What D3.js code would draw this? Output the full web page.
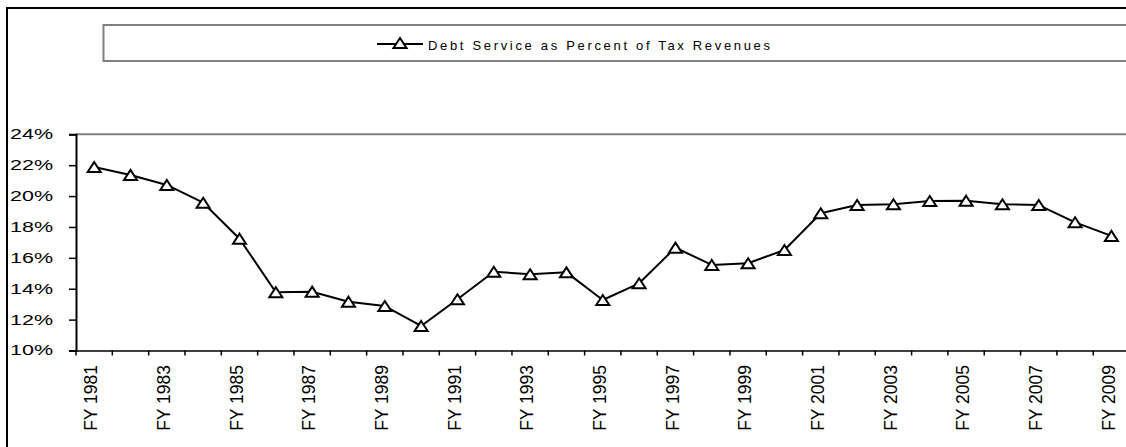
<!DOCTYPE html>
<html>
<head>
<meta charset="utf-8">
<script src="https://cdn.jsdelivr.net/npm/d3@7"></script>
<style>
  html, body { margin: 0; background: #fff; overflow: hidden; }
  svg { display: block; overflow: hidden; font-family: "Liberation Sans", Arial, sans-serif; }
</style>
</head>
<body>
<div id="graf"></div>
<script>
const years = [
  1981, 1982, 1983, 1984, 1985, 1986, 1987, 1988, 1989, 1990,
  1991, 1992, 1993, 1994, 1995, 1996, 1997, 1998, 1999, 2000,
  2001, 2002, 2003, 2004, 2005, 2006, 2007, 2008, 2009
]
const debtPct = [
  21.88, 21.37, 20.72, 19.57, 17.24, 13.77, 13.81, 13.16, 12.88, 11.59,
  13.32, 15.1, 14.94, 15.06, 13.27, 14.35, 16.66, 15.54, 15.65, 16.51,
  18.89, 19.42, 19.47, 19.68, 19.7, 19.47, 19.42, 18.3, 17.42
]
const yTicks = [10, 12, 14, 16, 18, 20, 22, 24]
const seriesName = "Debt Service as Percent of Tax Revenues"

const data = years.map((y, i) => ({ year: y, value: debtPct[i] }))

const W = 1126, H = 447
const plot = { left: 76, top: 134.3, bottom: 350.5, band: 36.33 }
const plotRight = plot.left + plot.band * years.length

const svg = d3.select("#graf")
  .append("svg")
  .attr("width", W)
  .attr("height", H)

// outer chart border: only top and left are inside the picture
svg.append("path")
  .attr("d", `M${W + 50},8H7V${H + 50}`)
  .attr("fill", "none")
  .attr("stroke", "#000")
  .attr("stroke-width", 2)

// legend box, its right end is cut off
svg.append("path")
  .attr("d", `M${W + 50},25H103.5V61H${W + 50}`)
  .attr("fill", "none")
  .attr("stroke", "#808080")
  .attr("stroke-width", 2)

const triPath = "M0,-5L6.5,5L-6.5,5Z"

const leg = svg.append("g")
leg.append("line")
  .attr("x1", 377).attr("x2", 423)
  .attr("y1", 44).attr("y2", 44)
  .attr("stroke", "#000")
  .attr("stroke-width", 2)
leg.append("path")
  .attr("d", triPath)
  .attr("transform", "translate(400,43)")
  .attr("fill", "#fff")
  .attr("stroke", "#000")
  .attr("stroke-width", 2)
leg.append("text")
  .attr("x", 428).attr("y", 50)
  .attr("font-size", 13)
  .attr("textLength", 342)
  .attr("lengthAdjust", "spacing")
  .attr("fill", "#000")
  .text(seriesName)

const x = d3.scaleBand()
  .domain(years)
  .range([plot.left, plotRight])
  .paddingInner(0).paddingOuter(0)

const y = d3.scaleLinear()
  .domain([10, 24])
  .range([plot.bottom, plot.top])

// plot area top border
svg.append("line")
  .attr("x1", plot.left).attr("x2", W + 50)
  .attr("y1", plot.top).attr("y2", plot.top)
  .attr("stroke", "#808080")
  .attr("stroke-width", 2)

// y axis
const yAxis = d3.axisLeft(y)
  .tickValues(yTicks)
  .tickSize(7)
  .tickPadding(16)
  .tickFormat((d) => d + "%")

const gy = svg.append("g")
  .attr("transform", `translate(${plot.left},0)`)
  .call(yAxis)
gy.select(".domain").attr("stroke", "#000").attr("stroke-width", 2)
gy.selectAll(".tick line").attr("stroke", "#000").attr("stroke-width", 1.5)
gy.selectAll(".tick text")
  .attr("font-size", 14)
  .attr("font-family", "'Liberation Sans', Arial, sans-serif")
  .attr("fill", "#000")
  .attr("textLength", 43)
  .attr("lengthAdjust", "spacingAndGlyphs")

// x axis: ticks sit between categories, labels on odd years
const xAxis = d3.axisBottom(x)
  .tickSize(5)
  .tickSizeOuter(0)
  .tickFormat((d) => (d % 2 === 1 ? "FY " + d : ""))

const gx = svg.append("g")
  .attr("transform", `translate(0,${plot.bottom})`)
  .call(xAxis)
gx.select(".domain").attr("stroke", "#000").attr("stroke-width", 1.5)
gx.selectAll(".tick line")
  .attr("x1", -x.bandwidth() / 2)
  .attr("x2", -x.bandwidth() / 2)
  .attr("stroke", "#000")
  .attr("stroke-width", 1.5)
gx.selectAll(".tick text")
  .attr("font-size", 17.5)
  .attr("font-family", "'Liberation Sans', Arial, sans-serif")
  .attr("fill", "#000")
  .attr("text-anchor", "end")
  .attr("transform", "rotate(-90)")
  .attr("x", -14.5)
  .attr("y", -3)
  .attr("dy", "0.35em")

// series line
const line = d3.line()
  .x((d) => x(d.year) + x.bandwidth() / 2)
  .y((d) => y(d.value))

svg.append("path")
  .datum(data)
  .attr("d", line)
  .attr("fill", "none")
  .attr("stroke", "#000")
  .attr("stroke-width", 2)
  .attr("stroke-linejoin", "round")

svg.append("g")
  .selectAll("path")
  .data(data)
  .join("path")
  .attr("d", triPath)
  .attr("transform", (d) => `translate(${x(d.year) + x.bandwidth() / 2},${y(d.value)})`)
  .attr("fill", "#fff")
  .attr("stroke", "#000")
  .attr("stroke-width", 2)
</script>
</body>
</html>
